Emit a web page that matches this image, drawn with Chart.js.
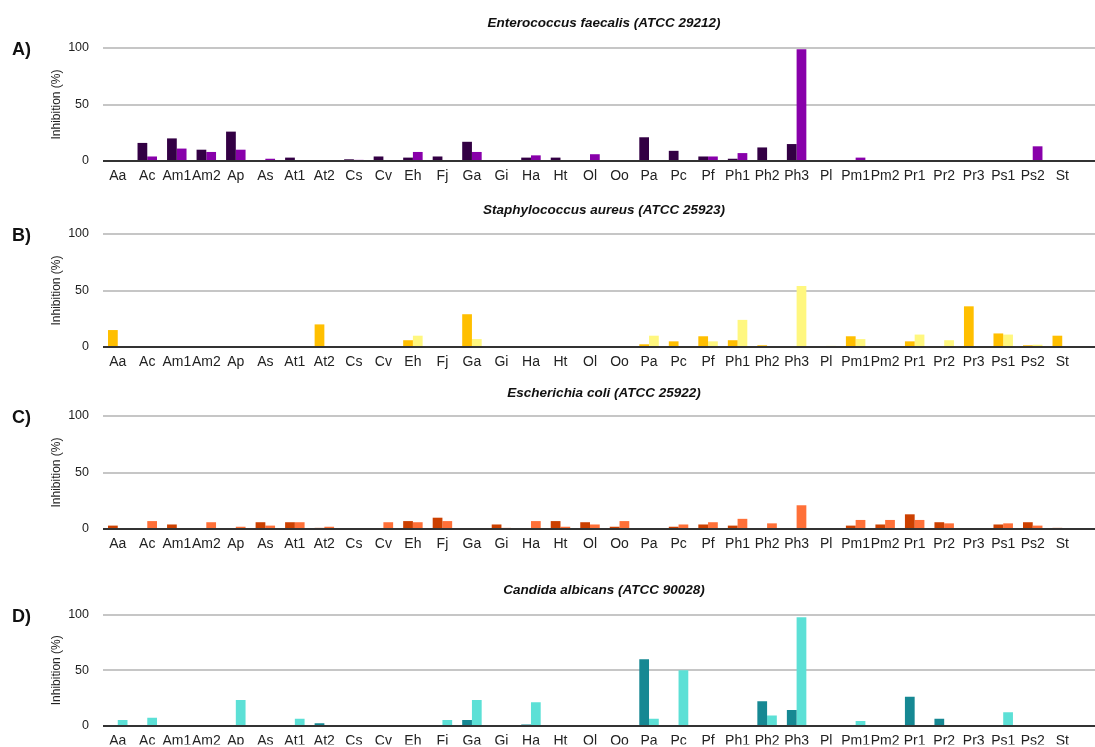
<!DOCTYPE html>
<html>
<head>
<meta charset="utf-8">
<script src="https://cdn.jsdelivr.net/npm/chart.js@4.4.0/dist/chart.umd.min.js"></script>
<style>
  html, body { margin: 0; padding: 0; background: #fff; }
  #wrap { position: relative; width: 1095px; height: 747px; overflow: hidden; }
  canvas { position: absolute; left: 0; }
</style>
</head>
<body>
<div id="wrap">
  <canvas id="panelA" width="1095" height="190" style="top:0px"></canvas>
  <canvas id="panelB" width="1095" height="185" style="top:190px"></canvas>
  <canvas id="panelC" width="1095" height="190" style="top:375px"></canvas>
  <canvas id="panelD" width="1095" height="182" style="top:565px"></canvas>
</div>
<script>
// plant extracts (x axis)
const categories = ['Aa','Ac','Am1','Am2','Ap','As','At1','At2','Cs','Cv','Eh','Fj','Ga','Gi','Ha','Ht','Ol','Oo',
                    'Pa','Pc','Pf','Ph1','Ph2','Ph3','Pl','Pm1','Pm2','Pr1','Pr2','Pr3','Ps1','Ps2','St'];
const categoriesD = ['Aa','Ac','Am1','Am2','Ap','As','At1','At2','Cs','Cv','Eh','Fi','Ga','Gi','Ha','Ht','Ol','Oo',
                    'Pa','Pc','Pf','Ph1','Ph2','Ph3','Pl','Pm1','Pm2','Pr1','Pr2','Pr3','Ps1','Ps2','St'];
const yTicks = [0, 50, 100];

// inhibition (%) - first / second series per organism
const efaecalis1 = [0,16,20,10,26,0,3,0,1.5,4,3,4,17,0,3,3,0,0,21,9,4,2,12,15,0,0,0,0,0,0,0,0,0.5];
const efaecalis2 = [0,4,11,8,10,2,0,0,1,0,8,0,8,0,5,0,6,0,0,0,4,7,0,99,0,3,0,0,0,0,0,13,0];
const saureus1   = [15,0,0,0,0,0,0,20,0,0,6,0,29,0,0,0,0,0,2.4,5,9.5,6,1.5,0,0,9.5,0,5,0.4,36,12,1.5,10];
const saureus2   = [0,0,0,0,0,0,0,0,0,0,10,0,7,0,0,0,0,0,10,0,5,24,0,54,1,7,0,11,6,0,11,2,0];
const ecoli1     = [3,0,4,0,0,6,6,1,0,0,7,10,0,4,0,7,6,2,0,2,4,3,0,0,0,3,4,13,6,0,4,6,1];
const ecoli2     = [0,7,0,6,2,3,6,2,0,6,6,7,0,1,7,2,4,7,0,4,6,9,5,21,0,8,8,8,5,0,5,3,0];
const calbicans1 = [0,0,0,0,0,0,0,2,0,0,0,0,5,0,1,0,0,0,60,0,0,0,22,14,0,0,0,26,6,0,0,0,0];
const calbicans2 = [5,7,0,0,23,0,6,0,0,0,0,5,23,0,21,0,0,0,6,50,0,0,9,98,0,4,0,0,0,0,12,0,0];

const FONT = "'Liberation Sans', Arial, Helvetica, sans-serif";

// gridlines run to the right edge, letters/titles drawn at fixed spots
const panelDecor = {
    id: 'panelDecor',
    beforeDatasetsDraw(chart) {
        const ctx = chart.ctx, y = chart.scales.y, area = chart.chartArea;
        ctx.save();
        ctx.strokeStyle = '#b3b3b3';
        ctx.lineWidth = 1.5;
        y.ticks.forEach(t => {
            if (t.value === 0) return;
            const py = Math.round(y.getPixelForValue(t.value));
            ctx.beginPath();
            ctx.moveTo(area.left, py);
            ctx.lineTo(chart.width, py);
            ctx.stroke();
        });
        ctx.restore();
    },
    afterDatasetsDraw(chart, args, opts) {
        const ctx = chart.ctx, y = chart.scales.y, area = chart.chartArea;
        ctx.save();
        const py = Math.round(y.getPixelForValue(0));
        ctx.strokeStyle = '#333';
        ctx.lineWidth = 2;
        ctx.beginPath();
        ctx.moveTo(area.left, py);
        ctx.lineTo(chart.width, py);
        ctx.stroke();

        ctx.fillStyle = '#111';
        ctx.textBaseline = 'middle';
        ctx.textAlign = 'left';
        ctx.font = 'bold 18px ' + FONT;
        ctx.fillText(opts.letter, 12, area.top + 2);

        ctx.textAlign = 'center';
        ctx.font = 'italic bold 13.5px ' + FONT;
        ctx.fillText(opts.title, 604, opts.titleY);

        ctx.translate(57, (area.top + area.bottom) / 2);
        ctx.rotate(-Math.PI / 2);
        ctx.font = '12px ' + FONT;
        ctx.fillStyle = '#222';
        ctx.fillText('Inhibition (%)', 0, 0);
        ctx.restore();
    }
};

function make_panel(id, labels, s1, s2, colors, cfg) {
    const ctx = document.getElementById(id).getContext('2d');
    const data = {
        labels: labels,
        datasets: [
            {data: s1, backgroundColor: colors[0], borderWidth: 0, categoryPercentage: 0.66, barPercentage: 1.0},
            {data: s2, backgroundColor: colors[1], borderWidth: 0, categoryPercentage: 0.66, barPercentage: 1.0}
        ]
    };
    const options = {
        responsive: false,
        animation: false,
        events: [],
        layout: {padding: {top: cfg.top, bottom: 0, left: 0, right: 18}},
        plugins: {
            legend: {display: false},
            tooltip: {enabled: false},
            panelDecor: {letter: cfg.letter, title: cfg.title, titleY: cfg.titleY}
        },
        scales: {
            x: {
                grid: {display: false, drawTicks: false},
                border: {display: false},
                ticks: {font: {family: FONT, size: 14}, color: '#222', padding: 7, maxRotation: 0, autoSkip: false},
                afterFit: (scale) => { scale.height = cfg.xh; }
            },
            y: {
                min: 0, max: 100,
                afterBuildTicks: (scale) => { scale.ticks = yTicks.map(v => ({value: v})); },
                grid: {display: false, drawTicks: false},
                border: {display: false},
                ticks: {font: {family: FONT, size: 12.5}, color: '#222', padding: 14},
                afterFit: (scale) => { scale.width = 103; }
            }
        }
    };
    return new Chart(ctx, {type: 'bar', data: data, options: options, plugins: [panelDecor]});
}

make_panel('panelA', categories, efaecalis1, efaecalis2, ['#330044', '#8800aa'],
    {letter: 'A)', title: 'Enterococcus faecalis (ATCC 29212)', titleY: 23, top: 48, xh: 29});
make_panel('panelB', categories, saureus1, saureus2, ['#ffbf00', '#fff77f'],
    {letter: 'B)', title: 'Staphylococcus aureus (ATCC 25923)', titleY: 20, top: 44, xh: 28});
make_panel('panelC', categories, ecoli1, ecoli2, ['#cc4000', '#ff7038'],
    {letter: 'C)', title: 'Escherichia coli (ATCC 25922)', titleY: 18, top: 41, xh: 36});
make_panel('panelD', categoriesD, calbicans1, calbicans2, ['#168893', '#5ce0d6'],
    {letter: 'D)', title: 'Candida albicans (ATCC 90028)', titleY: 25, top: 50, xh: 19});
</script>
</body>
</html>
